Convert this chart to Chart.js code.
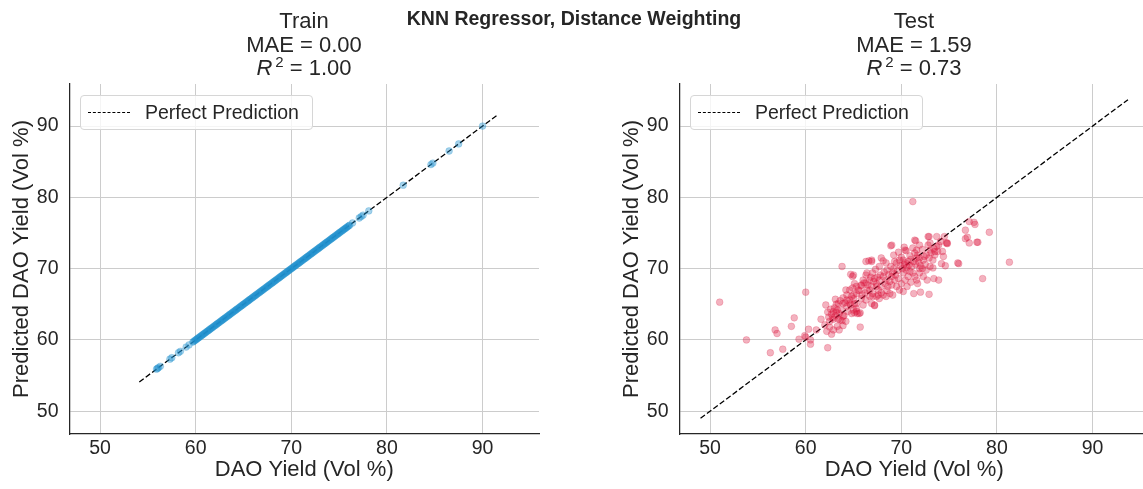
<!DOCTYPE html>
<html>
<head>
<meta charset="utf-8">
<title>KNN Regressor, Distance Weighting</title>
<script src="https://cdn.jsdelivr.net/npm/chart.js@4.4.1/dist/chart.umd.min.js"></script>
<style>
  body { margin: 0; width: 1143px; height: 489px; overflow: hidden; background: #fff;
         font-family: "Liberation Sans", Arial, sans-serif; color: #262626; position: relative; }
  canvas { position: absolute; top: 0; }
  .suptitle { position: absolute; top: 7px; left: 374px; width: 400px; text-align: center;
              font-weight: bold; font-size: 19.5px; line-height: 22px; }
  .title { position: absolute; top: 9px; width: 300px; text-align: center; font-size: 22px; line-height: 23.5px; }
  .title sup { font-size: 15px; line-height: 0; margin-left: 3px; }
  .legend { position: absolute; top: 95px; width: 231px; height: 33px; border: 1px solid #d6d6d6;
            border-radius: 4px; background: rgba(255,255,255,0.8); font-size: 19.5px; }
  .legend .dash { position: absolute; left: 7px; top: 16px; width: 42px; height: 0;
                  border-top: 1.5px dashed #000; }
  .legend .label { position: absolute; left: 64px; top: 5px; line-height: 22px; }
</style>
</head>
<body>
<canvas id="trainChart" width="571" height="489" style="left:0px"></canvas>
<canvas id="testChart" width="571" height="489" style="left:610px"></canvas>

<div class="suptitle">KNN Regressor, Distance Weighting</div>
<div class="title" style="left:154px">Train<br>MAE = 0.00<br><i>R</i><sup>2</sup> = 1.00</div>
<div class="title" style="left:764px">Test<br>MAE = 1.59<br><i>R</i><sup>2</sup> = 0.73</div>
<div class="legend" style="left:80px"><div class="dash"></div><div class="label">Perfect Prediction</div></div>
<div class="legend" style="left:690px"><div class="dash"></div><div class="label">Perfect Prediction</div></div>

<script>
const axisMin = 46.8;
const axisMax = 95.9;
const tickValues = [50, 60, 70, 80, 90];

// train set: distance weighting reproduces every training target, so predicted == actual
const trainYield = [
  55.9, 56.0, 56.1, 56.3, 57.3, 57.5, 58.2, 58.4, 59.0, 59.3,
  59.7, 59.8, 59.9,
  60.0, 60.1, 60.2, 60.3, 60.4, 60.5, 60.6, 60.7, 60.8, 60.9,
  61.0, 61.1, 61.2, 61.3, 61.4, 61.5, 61.6, 61.7, 61.8, 61.9,
  62.0, 62.1, 62.2, 62.3, 62.4, 62.5, 62.6, 62.7, 62.8, 62.9,
  63.0, 63.1, 63.2, 63.3, 63.4, 63.5, 63.6, 63.7, 63.8, 63.9,
  64.0, 64.1, 64.2, 64.3, 64.4, 64.5, 64.6, 64.7, 64.8, 64.9,
  65.0, 65.1, 65.2, 65.3, 65.4, 65.5, 65.6, 65.7, 65.8, 65.9,
  66.0, 66.1, 66.2, 66.3, 66.4, 66.5, 66.6, 66.7, 66.8, 66.9,
  67.0, 67.1, 67.2, 67.3, 67.4, 67.5, 67.6, 67.7, 67.8, 67.9,
  68.0, 68.1, 68.2, 68.3, 68.4, 68.5, 68.6, 68.7, 68.8, 68.9,
  69.0, 69.1, 69.2, 69.3, 69.4, 69.5, 69.6, 69.7, 69.8, 69.9,
  70.0, 70.1, 70.2, 70.3, 70.4, 70.5, 70.6, 70.7, 70.8, 70.9,
  71.0, 71.1, 71.2, 71.3, 71.4, 71.5, 71.6, 71.7, 71.8, 71.9,
  72.0, 72.1, 72.2, 72.3, 72.4, 72.5, 72.6, 72.7, 72.8, 72.9,
  73.0, 73.1, 73.2, 73.3, 73.4, 73.5, 73.6, 73.7, 73.8, 73.9,
  74.0, 74.1, 74.2, 74.3, 74.4, 74.5, 74.6, 74.7, 74.8, 74.9,
  75.0, 75.1, 75.2, 75.3, 75.4, 75.5, 75.6, 75.7, 75.8, 75.9,
  76.0, 76.1,
  76.4, 77.1, 77.3, 77.5, 78.1, 81.7, 84.6, 84.8, 86.5, 87.5, 90.0
];

const testActual = [
  51.0, 53.8, 56.3, 57.6, 56.8, 57.0, 58.5, 58.8, 59.3, 60.0, 59.9, 60.0, 60.3, 60.5, 60.5, 62.3,
  61.1, 61.6, 62.1, 63.1, 63.8, 62.0, 62.5, 62.2, 62.7, 62.9, 63.3, 65.7,
  62.4, 62.7, 62.9, 63.1, 62.6, 63.3, 62.9, 63.5, 62.3, 63.0, 63.7, 62.5, 63.4, 64.0, 63.8, 62.8, 63.2,
  64.2, 63.9, 63.5, 64.4, 65.0, 65.3, 64.7, 65.3, 65.7, 64.8, 65.0, 64.7, 64.9, 65.8, 66.1, 66.4,
  66.4, 67.0, 67.2, 67.4, 66.9, 66.3, 66.6, 66.9, 67.9, 68.1, 68.9,
  63.2, 63.6, 63.9, 64.1, 64.3, 64.6, 64.2, 64.9, 65.0,
  65.5, 65.8, 66.0, 65.3, 65.1, 66.3, 66.3, 66.7, 66.9, 67.0, 67.2, 67.4, 67.6, 67.7, 67.9, 68.1,
  68.3, 68.4, 68.6, 68.8, 69.0, 69.1, 69.3, 69.5, 69.7, 69.8, 70.2, 70.0, 70.4, 70.2, 70.5, 70.7,
  70.9, 71.1, 71.4, 71.6, 71.7, 71.9, 72.3, 72.6, 73.0, 73.3,
  69.3, 69.5, 70.2, 70.4, 70.7, 70.9, 71.2, 71.4, 71.6, 71.7, 71.9, 72.3, 72.4, 72.6, 72.8, 73.0,
  73.1, 73.3, 73.5, 73.7, 73.8, 73.9, 74.1, 74.3, 74.4, 74.7, 71.5, 73.7, 72.8, 74.5, 74.8, 69.7, 70.5,
  64.3, 64.6, 65.0, 65.1, 65.3, 65.6, 65.8, 66.0, 66.3, 66.7, 66.9, 67.0, 67.2, 67.4, 67.6, 67.7,
  68.1, 68.4, 68.8, 69.1, 64.8, 65.1, 65.4, 63.9, 63.6, 63.4, 63.9, 64.3, 64.6, 65.3, 66.7,
  71.3, 72.0, 72.9, 72.7, 73.4, 73.9, 74.2, 74.6, 76.0, 71.2, 81.3, 78.5, 79.2, 77.9, 76.7, 76.9,
  76.7, 77.1, 77.1, 77.6, 77.7,
  68.5, 68.9, 69.2, 69.6, 69.9, 70.1, 70.3, 70.6, 70.0, 69.8, 70.8, 71.0, 71.3, 71.5, 71.8, 72.0,
  72.2, 69.4, 68.7, 68.2, 67.8, 67.5, 67.1, 66.8, 66.5, 66.2, 65.9, 65.6, 69.0, 68.5, 67.9, 70.6,
  71.0, 71.2, 71.9, 72.5, 72.9, 73.4, 72.2, 71.6, 70.3, 69.2, 68.4, 67.7, 67.3,
  69.0, 70.4, 71.4, 71.9, 72.9, 73.0, 73.5, 75.9, 78.0, 74.8
];

const testPredicted = [
  65.3, 60.0, 58.2, 58.7, 61.4, 60.9, 61.9, 63.1, 60.1, 66.7, 60.6, 60.4, 61.5, 60.0, 59.4, 58.9,
  61.4, 62.9, 64.9, 65.7, 70.3, 62.1, 61.8, 61.2, 60.8, 61.4, 61.9, 61.8,
  63.2, 63.6, 64.0, 63.4, 64.3, 64.2, 62.9, 63.7, 63.9, 64.5, 64.2, 62.6, 62.9, 63.4, 62.7, 63.1, 63.9,
  62.6, 62.0, 61.4, 64.0, 64.2, 65.1, 64.9, 64.0, 63.8, 66.1, 69.1, 69.2, 68.9, 67.7, 68.0, 67.0,
  69.4, 66.1, 64.9, 67.5, 71.0, 71.0, 71.1, 71.2, 71.5, 71.1, 73.2,
  65.0, 65.5, 65.9, 65.2, 66.3, 65.6, 67.0, 67.3, 65.8,
  67.0, 67.6, 68.4, 67.5, 67.9, 69.1, 68.0, 68.4, 67.5, 69.4, 68.6, 67.9, 67.0, 68.4, 67.5, 68.9,
  67.9, 68.4, 67.5, 68.2, 68.9, 69.4, 68.4, 67.5, 68.6, 67.0, 66.8, 67.9, 68.4, 69.4, 69.8, 68.9,
  69.6, 70.3, 68.9, 68.4, 67.9, 69.4, 68.9, 69.8, 70.3, 70.1,
  71.0, 70.8, 71.2, 70.8, 71.0, 71.8, 72.9, 72.2, 71.5, 71.9, 71.5, 71.2, 71.7, 71.9, 73.3, 72.6,
  72.2, 71.2, 71.9, 73.1, 72.4, 73.3, 73.8, 72.4, 71.7, 73.6, 73.9, 74.5, 74.5, 74.5, 73.5, 72.3, 72.5,
  65.6, 65.1, 66.3, 65.1, 64.4, 63.7, 65.8, 64.9, 65.6, 66.1, 65.1, 66.5, 64.8, 66.1, 66.3, 65.8,
  66.3, 66.1, 66.5, 66.3, 63.7, 63.8, 63.7, 63.3, 62.8, 65.1, 65.1, 64.7, 67.0, 66.5, 67.0,
  66.5, 66.7, 66.4, 68.4, 68.6, 68.4, 70.7, 70.4, 70.7, 79.4, 70.9, 68.6, 75.1, 73.7, 75.4, 74.4,
  74.2, 73.6, 76.6, 76.5, 76.2,
  69.8, 70.3, 70.0, 69.7, 70.4, 70.0, 70.6, 70.2, 71.6, 71.2, 70.5, 71.3, 71.0, 70.6, 70.9, 70.4,
  70.0, 69.1, 69.2, 69.5, 69.1, 68.8, 68.2, 68.8, 67.7, 66.6, 66.3, 66.9, 67.7, 66.9, 66.6, 67.5,
  68.1, 69.4, 70.0, 70.6, 71.5, 72.8, 72.7, 72.6, 73.0, 71.9, 70.8, 70.3, 69.9,
  73.3, 72.6, 74.0, 73.3, 74.5, 73.6, 72.4, 70.8, 73.7, 73.6
];

// end points of the dashed y = x reference line in each panel
const trainLine = [54.1, 91.6];
const testLine = [49.0, 93.7];

const textColor = '#262626';
const fontFamily = '"Liberation Sans", Arial, sans-serif';

function makeChart(id, points, pointColor, lineEnds) {
  const ctx = document.getElementById(id).getContext('2d');
  return new Chart(ctx, {
    data: {
      datasets: [
        {
          type: 'scatter',
          label: 'points',
          data: points,
          order: 1,
          pointRadius: 3.4,
          pointBorderWidth: 0.6,
          backgroundColor: pointColor,
          borderColor: pointColor
        },
        {
          type: 'line',
          label: 'Perfect Prediction',
          data: lineEnds.map(v => ({ x: v, y: v })),
          order: 2,
          borderColor: '#000',
          borderWidth: 1.3,
          borderDash: [5.5, 2.5],
          pointRadius: 0,
          fill: false
        }
      ]
    },
    options: {
      responsive: false,
      animation: false,
      layout: { padding: { top: 84, right: 32, left: 0, bottom: 0 } },
      plugins: { legend: { display: false }, tooltip: { enabled: false } },
      scales: {
        x: {
          type: 'linear',
          min: axisMin,
          max: axisMax,
          afterFit: scale => { scale.height = 55; },
          afterBuildTicks: scale => { scale.ticks = tickValues.map(v => ({ value: v })); },
          ticks: { color: textColor, font: { family: fontFamily, size: 19.5 }, padding: 3 },
          grid: { color: '#cccccc', lineWidth: 1, drawTicks: false },
          border: { color: textColor, width: 1.25 },
          title: { display: true, text: 'DAO Yield (Vol %)', color: textColor,
                   font: { family: fontFamily, size: 22 }, padding: { top: 0, bottom: 6 } }
        },
        y: {
          type: 'linear',
          min: axisMin,
          max: axisMax,
          afterFit: scale => { scale.width = 69.5; },
          afterBuildTicks: scale => { scale.ticks = tickValues.map(v => ({ value: v })); },
          ticks: { color: textColor, font: { family: fontFamily, size: 19.5 }, padding: 11 },
          grid: { color: '#cccccc', lineWidth: 1, drawTicks: false },
          border: { color: textColor, width: 1.25 },
          title: { display: true, text: 'Predicted DAO Yield (Vol %)', color: textColor,
                   font: { family: fontFamily, size: 22 }, padding: { top: 9, bottom: 0 } }
        }
      }
    }
  });
}

makeChart('trainChart', trainYield.map(v => ({ x: v, y: v })), 'rgba(29, 143, 206, 0.4)', trainLine);
makeChart('testChart', testActual.map((v, i) => ({ x: v, y: testPredicted[i] })), 'rgba(220, 20, 60, 0.33)', testLine);
</script>
</body>
</html>
